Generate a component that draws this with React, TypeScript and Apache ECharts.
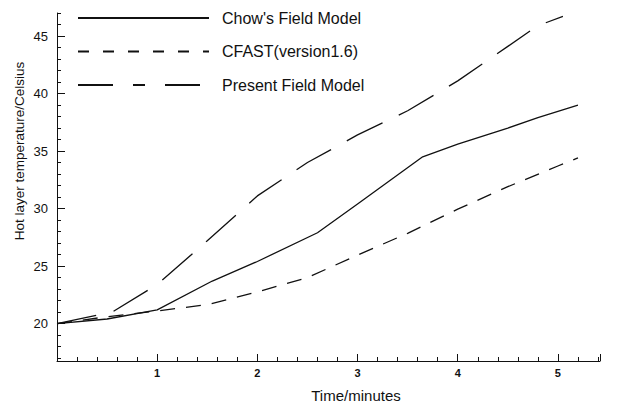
import React, { useEffect, useRef } from 'react';
import * as echarts from 'echarts';

// ---- data ----
const seriesNames = ["Chow's Field Model", 'CFAST(version1.6)', 'Present Field Model'];

const chowTime = [0, 0.5, 1, 1.55, 2, 2.6, 3, 3.65, 4, 4.5, 4.8, 5.2];
const chowTemp = [20, 20.4, 21.2, 23.7, 25.4, 27.9, 30.4, 34.5, 35.6, 37.0, 37.9, 39.0];

const cfastTime = [0, 0.5, 1, 1.5, 2, 2.5, 3, 3.5, 4, 4.5, 5, 5.2];
const cfastTemp = [20, 20.6, 21.1, 21.65, 22.75, 24.0, 25.95, 27.85, 29.95, 31.9, 33.7, 34.4];

const presentTime = [0, 0.55, 1, 1.5, 2, 2.5, 3, 3.5, 4, 4.5, 4.8, 5.05];
const presentTemp = [20, 21.0, 23.4, 27.2, 31.1, 34.0, 36.4, 38.5, 41.1, 44.1, 45.9, 46.7];

const xTickLabels = [1, 2, 3, 4, 5];
const xMinorTicks = [0.2, 0.4, 0.6, 0.8, 1.2, 1.4, 1.6, 1.8, 2.2, 2.4, 2.6, 2.8, 3.2, 3.4, 3.6, 3.8, 4.2, 4.4, 4.6, 4.8, 5.2, 5.4];
const yTickLabels = [20, 25, 30, 35, 40, 45];
const yMinorTicks = [17, 18, 19, 20, 21, 22, 23, 24, 25, 26, 27, 28, 29, 30, 31, 32, 33, 34, 35, 36, 37, 38, 39, 40, 41, 42, 43, 44, 45, 46, 47];

const xAxisTitle = 'Time/minutes';
const yAxisTitle = 'Hot layer temperature/Celsius';

const X_MIN = 0;
const X_MAX = 5.42;
const Y_MIN = 16.75;
const Y_MAX = 47;

const FONT = '"Liberation Sans", Arial, Helvetica, sans-serif';
const INK = '#111111';

const zip = (xs: number[], ys: number[]) => xs.map((x, i) => [x, ys[i]]);

export default function App() {
  const ref = useRef<HTMLDivElement>(null);

  useEffect(() => {
    if (!ref.current) return;
    const chart = echarts.init(ref.current, null, { renderer: 'svg' });

    const baseX = {
      type: 'value' as const,
      min: X_MIN,
      max: X_MAX,
      position: 'bottom' as const,
      splitLine: { show: false },
    };
    const baseY = {
      type: 'value' as const,
      min: Y_MIN,
      max: Y_MAX,
      position: 'left' as const,
      splitLine: { show: false },
    };

    chart.setOption({
      animation: false,
      backgroundColor: '#ffffff',
      grid: { left: 57, right: 28, top: 13, bottom: 46, containLabel: false },
      legend: {
        orient: 'vertical',
        left: 72,
        top: 5,
        itemWidth: 131,
        itemHeight: 16,
        itemGap: 17.5,
        itemStyle: { opacity: 0, borderWidth: 0 },
        textStyle: { fontFamily: FONT, fontSize: 16, color: INK, padding: [0, 0, 0, 8] },
        data: [
          { name: seriesNames[0] },
          { name: seriesNames[1], lineStyle: { type: [11, 14] } },
          { name: seriesNames[2], lineStyle: { type: [35, 20, 12, 20] } },
        ],
      },
      xAxis: [
        {
          ...baseX,
          interval: 1,
          axisLine: { show: true, lineStyle: { color: INK, width: 1 } },
          axisTick: { show: true, inside: true, length: 7, lineStyle: { color: INK } },
          axisLabel: {
            show: true,
            customValues: xTickLabels,
            margin: 6,
            fontFamily: FONT,
            fontSize: 11,
            fontWeight: 'bold',
            color: INK,
          },
        },
        {
          ...baseX,
          axisLine: { show: false },
          axisLabel: { show: false },
          axisTick: { show: true, inside: true, length: 4, customValues: xMinorTicks, lineStyle: { color: INK } },
        },
      ],
      yAxis: [
        {
          ...baseY,
          axisLine: { show: true, lineStyle: { color: INK, width: 1 } },
          axisTick: { show: true, inside: true, length: 8, customValues: yTickLabels, lineStyle: { color: INK } },
          axisLabel: {
            show: true,
            customValues: yTickLabels,
            margin: 9,
            fontFamily: FONT,
            fontSize: 13,
            color: INK,
          },
        },
        {
          ...baseY,
          axisLine: { show: false },
          axisLabel: { show: false },
          axisTick: { show: true, inside: true, length: 4, customValues: yMinorTicks, lineStyle: { color: INK } },
        },
      ],
      graphic: [
        {
          type: 'text',
          x: 19,
          y: 151,
          rotation: Math.PI / 2,
          style: {
            text: yAxisTitle,
            fontFamily: FONT,
            fontSize: 13.5,
            fill: INK,
            align: 'center',
            verticalAlign: 'middle',
          },
        },
        {
          type: 'text',
          x: 356,
          y: 395,
          style: {
            text: xAxisTitle,
            fontFamily: FONT,
            fontSize: 15,
            fill: INK,
            align: 'center',
            verticalAlign: 'middle',
          },
        },
      ],
      series: [
        {
          name: seriesNames[0],
          type: 'line',
          xAxisIndex: 0,
          yAxisIndex: 0,
          symbol: 'none',
          showSymbol: false,
          data: zip(chowTime, chowTemp),
          lineStyle: { color: INK, width: 1.3, type: 'solid' },
          itemStyle: { color: INK },
        },
        {
          name: seriesNames[1],
          type: 'line',
          xAxisIndex: 0,
          yAxisIndex: 0,
          symbol: 'none',
          showSymbol: false,
          data: zip(cfastTime, cfastTemp),
          lineStyle: { color: INK, width: 1.3, type: [15, 11] },
          itemStyle: { color: INK },
        },
        {
          name: seriesNames[2],
          type: 'line',
          xAxisIndex: 0,
          yAxisIndex: 0,
          symbol: 'none',
          showSymbol: false,
          data: zip(presentTime, presentTemp),
          lineStyle: { color: INK, width: 1.3, type: [40, 18] },
          itemStyle: { color: INK },
        },
      ],
    });

    return () => chart.dispose();
  }, []);

  return <div ref={ref} style={{ width: 628, height: 407, position: 'absolute', left: 0, top: 0 }} />;
}
